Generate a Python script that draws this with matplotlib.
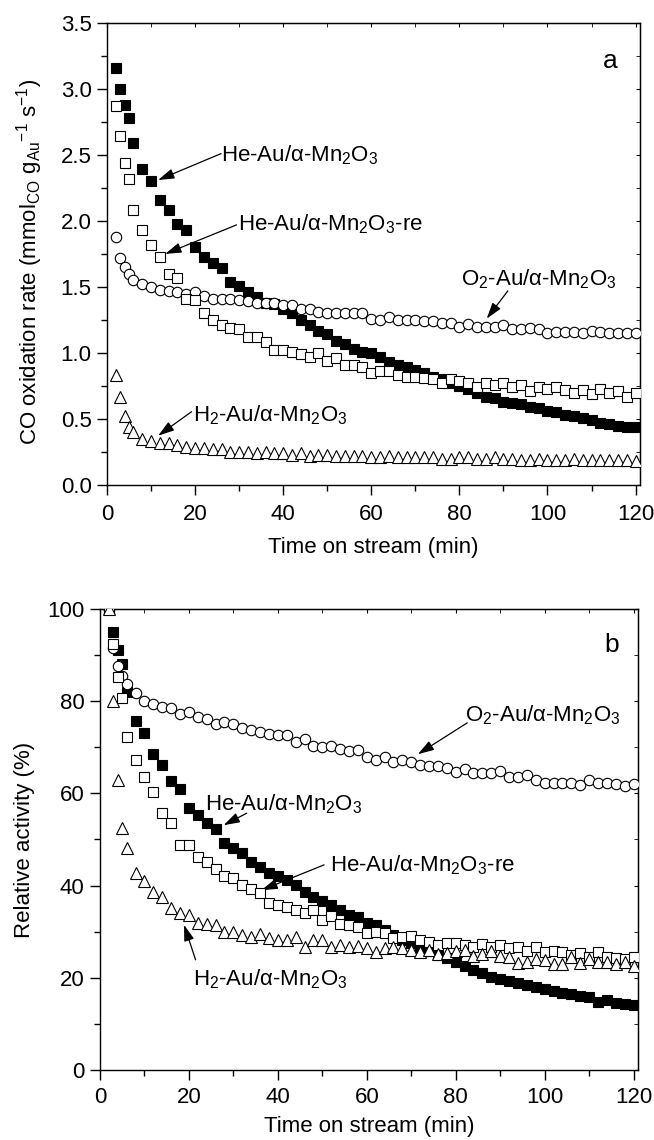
import matplotlib
matplotlib.use('Agg')
import matplotlib.pyplot as plt
from matplotlib.ticker import MultipleLocator

plt.rcParams['font.family'] = ['Liberation Sans', 'DejaVu Sans']
plt.rcParams['mathtext.fontset'] = 'custom'
plt.rcParams['mathtext.rm'] = 'Liberation Sans'
plt.rcParams['mathtext.it'] = 'Liberation Sans:italic'
plt.rcParams['mathtext.default'] = 'regular'

# Time on stream (min)
time_min = [2, 3, 4, 5, 6, 8, 10, 12, 14, 16, 18, 20, 22, 24, 26, 28, 30, 32, 34, 36,
            38, 40, 42, 44, 46, 48, 50, 52, 54, 56, 58, 60, 62, 64, 66, 68, 70, 72, 74, 76,
            78, 80, 82, 84, 86, 88, 90, 92, 94, 96, 98, 100, 102, 104, 106, 108, 110, 112,
            114, 116, 118, 120]

# (a) CO oxidation rate
rate_he = [3.16, 3.00, 2.88, 2.78, 2.59,
           2.39, 2.30, 2.16, 2.08, 1.98, 1.93, 1.80, 1.73, 1.68, 1.64,
           1.54, 1.51, 1.46, 1.42, 1.38, 1.37, 1.33, 1.30, 1.25, 1.21,
           1.17, 1.14, 1.09, 1.07, 1.03, 1.01, 1.00, 0.97, 0.93, 0.91,
           0.89, 0.87, 0.85, 0.82, 0.80, 0.77, 0.75, 0.73, 0.70, 0.67,
           0.66, 0.63, 0.62, 0.61, 0.59, 0.58, 0.56, 0.55, 0.53, 0.52,
           0.51, 0.49, 0.47, 0.46, 0.45, 0.44, 0.44]
rate_he_re = [2.87, 2.64, 2.44, 2.32, 2.08,
              1.93, 1.82, 1.73, 1.60, 1.57, 1.41, 1.40, 1.30, 1.25, 1.21,
              1.19, 1.18, 1.12, 1.12, 1.08, 1.02, 1.02, 1.01, 0.99, 0.97,
              1.00, 0.94, 0.96, 0.91, 0.91, 0.89, 0.85, 0.86, 0.86, 0.83,
              0.82, 0.82, 0.81, 0.80, 0.77, 0.80, 0.79, 0.77, 0.74, 0.77,
              0.76, 0.77, 0.74, 0.76, 0.71, 0.74, 0.73, 0.74, 0.72, 0.70,
              0.72, 0.69, 0.73, 0.70, 0.71, 0.67, 0.70]
rate_o2 = [1.88, 1.72, 1.65, 1.60, 1.55,
           1.52, 1.50, 1.48, 1.47, 1.46, 1.45, 1.46, 1.43, 1.41, 1.41,
           1.41, 1.40, 1.39, 1.38, 1.38, 1.38, 1.36, 1.36, 1.33, 1.33,
           1.31, 1.30, 1.30, 1.30, 1.30, 1.30, 1.26, 1.25, 1.27, 1.25,
           1.25, 1.25, 1.24, 1.24, 1.23, 1.23, 1.20, 1.22, 1.20, 1.20,
           1.20, 1.21, 1.18, 1.18, 1.19, 1.18, 1.15, 1.16, 1.16, 1.16,
           1.15, 1.17, 1.16, 1.15, 1.15, 1.15, 1.15]
rate_h2 = [0.83, 0.67, 0.52, 0.44, 0.40,
           0.35, 0.33, 0.32, 0.32, 0.30, 0.29, 0.28, 0.28, 0.27, 0.27,
           0.25, 0.25, 0.25, 0.24, 0.25, 0.24, 0.24, 0.23, 0.24, 0.22,
           0.23, 0.23, 0.22, 0.22, 0.22, 0.22, 0.21, 0.21, 0.22, 0.21,
           0.21, 0.21, 0.21, 0.21, 0.20, 0.20, 0.21, 0.21, 0.20, 0.20,
           0.21, 0.20, 0.20, 0.19, 0.19, 0.20, 0.19, 0.19, 0.19, 0.20,
           0.19, 0.19, 0.19, 0.19, 0.19, 0.19, 0.18]

# (b) Relative activity (%)
rel_he = [100, 95.1, 91.1, 88.0, 82.1,
          75.8, 73.0, 68.5, 66.2, 62.7, 60.9, 56.8, 55.3, 53.5, 52.2,
          49.2, 48.1, 47.0, 45.2, 44.0, 42.8, 42.0, 41.2, 40.1, 38.7,
          37.6, 36.7, 35.8, 34.7, 33.6, 33.1, 31.8, 31.5, 30.4, 29.3,
          28.3, 27.5, 26.6, 25.9, 24.9, 24.2, 23.5, 22.6, 21.7, 21.0,
          20.2, 19.7, 19.4, 18.8, 18.4, 18.1, 17.5, 17.2, 16.8, 16.5,
          16.1, 15.8, 14.8, 15.2, 14.6, 14.3, 14.1]
rel_he_re = [100, 92.3, 85.2, 80.8, 72.3,
             67.2, 63.5, 60.4, 55.7, 53.6, 48.8, 48.7, 46.1, 45.2, 43.5,
             42.1, 41.7, 40.1, 39.2, 38.3, 36.2, 35.8, 35.4, 34.6, 34.0,
             34.6, 32.5, 33.4, 31.7, 31.5, 31.0, 29.8, 30.0, 29.8, 28.6,
             28.8, 29.1, 28.2, 27.8, 27.1, 27.6, 27.5, 27.1, 26.6, 27.3,
             26.6, 27.1, 26.4, 26.6, 25.9, 26.6, 25.7, 25.9, 25.7, 24.9,
             25.3, 24.6, 25.7, 24.6, 24.4, 24.0, 24.6]
rel_o2 = [100, 91.5, 87.7, 85.5, 83.8,
          81.8, 80.1, 79.4, 78.7, 78.5, 77.2, 77.7, 76.5, 76.1, 75.1,
          75.4, 75.1, 74.1, 73.8, 73.4, 72.9, 72.7, 72.7, 71.2, 71.7,
          70.2, 70.0, 70.2, 69.6, 69.3, 69.4, 67.9, 67.3, 68.0, 66.9,
          67.3, 66.9, 66.2, 66.0, 65.9, 65.5, 64.6, 65.2, 64.5, 64.5,
          64.5, 64.8, 63.6, 63.6, 63.9, 63.0, 62.2, 62.3, 62.3, 62.2,
          61.8, 62.8, 62.2, 62.2, 62.0, 61.6, 62.0]
rel_h2 = [100, 80.0, 62.9, 52.4, 48.1,
          42.7, 40.9, 38.7, 37.6, 35.1, 34.0, 33.6, 31.8, 31.7, 31.5,
          30.0, 30.0, 29.3, 28.9, 29.5, 28.6, 28.2, 28.2, 28.8, 26.6,
          28.2, 28.1, 26.6, 27.1, 26.6, 26.9, 26.4, 25.7, 26.4, 26.6,
          26.4, 26.0, 25.7, 26.0, 25.2, 25.4, 25.9, 26.0, 24.7, 25.2,
          25.9, 24.7, 24.6, 23.3, 23.4, 24.1, 23.9, 23.0, 23.0, 24.6,
          23.3, 24.0, 23.4, 23.4, 23.0, 23.4, 22.6]

lab_he = 'He-Au/$\\alpha$-Mn$_2$O$_3$'
lab_he_re = 'He-Au/$\\alpha$-Mn$_2$O$_3$-re'
lab_o2 = 'O$_2$-Au/$\\alpha$-Mn$_2$O$_3$'
lab_h2 = 'H$_2$-Au/$\\alpha$-Mn$_2$O$_3$'

FS = 16
arrow_kw = dict(arrowstyle='-|>,head_length=0.7,head_width=0.22', color='black',
                lw=0.9, shrinkA=0, shrinkB=0, mutation_scale=14)

fig = plt.figure(figsize=(6.54, 11.4), dpi=100)
ax1 = fig.add_axes([0.1636, 0.5746, 0.8150, 0.4053])
ax2 = fig.add_axes([0.1529, 0.0614, 0.8226, 0.4044])


def draw_series(ax, he, he_re, o2, h2):
    ax.plot(time_min, he, 's', ms=7, mfc='black', mec='black', mew=0.8, zorder=3)
    ax.plot(time_min, o2, 'o', ms=7.5, mfc='white', mec='black', mew=0.8, zorder=4)
    ax.plot(time_min, he_re, 's', ms=7, mfc='white', mec='black', mew=0.8, zorder=5)
    ax.plot(time_min, h2, '^', ms=8, mfc='white', mec='black', mew=0.8, zorder=6)


def style_axis(ax, ymax, ymajor, yminor, yfmt, xpad):
    ax.set_xlim(0, 121)
    ax.set_ylim(0, ymax)
    ax.xaxis.set_major_locator(MultipleLocator(20))
    ax.xaxis.set_minor_locator(MultipleLocator(10))
    ax.yaxis.set_major_locator(MultipleLocator(ymajor))
    ax.yaxis.set_minor_locator(MultipleLocator(yminor))
    ax.yaxis.set_major_formatter(yfmt)
    ax.tick_params(which='major', direction='out', length=7, width=1.0,
                   labelsize=FS, pad=4)
    ax.tick_params(axis='x', which='major', pad=xpad)
    ax.tick_params(which='minor', direction='out', length=4, width=1.0)
    for s in ax.spines.values():
        s.set_linewidth(1.0)
    # small inward ticks on top and right, no labels
    top = ax.secondary_xaxis('top')
    top.xaxis.set_major_locator(MultipleLocator(20))
    top.xaxis.set_minor_locator(MultipleLocator(10))
    top.tick_params(which='both', direction='in', length=3, labeltop=False)
    right = ax.secondary_yaxis('right')
    right.yaxis.set_major_locator(MultipleLocator(ymajor))
    right.yaxis.set_minor_locator(MultipleLocator(yminor))
    right.tick_params(which='both', direction='in', length=3, labelright=False)
    ax.set_xlabel('Time on stream (min)', fontsize=FS)


# ---- panel a ----
draw_series(ax1, rate_he, rate_he_re, rate_o2, rate_h2)
style_axis(ax1, 3.5, 0.5, 0.25, '{x:.1f}', 7)
ax1.xaxis.set_label_coords(0.5, -0.113)
ax1.set_ylabel('CO oxidation rate (mmol$_{CO}$ g$_{Au}$$^{-1}$ s$^{-1}$)', fontsize=FS)
ax1.yaxis.set_label_coords(-0.116, 0.483)
ax1.text(112.5, 3.16, 'a', fontsize=19)

ax1.text(25.9, 2.45, lab_he, fontsize=FS)
ax1.annotate('', xy=(11.6, 2.31), xytext=(25.9, 2.51), arrowprops=arrow_kw)
ax1.text(29.7, 1.93, lab_he_re, fontsize=FS)
ax1.annotate('', xy=(13.2, 1.75), xytext=(29.4, 1.97), arrowprops=arrow_kw)
ax1.text(80.3, 1.51, lab_o2, fontsize=FS)
ax1.annotate('', xy=(86.2, 1.26), xytext=(91.0, 1.47), arrowprops=arrow_kw)
ax1.text(19.6, 0.48, lab_h2, fontsize=FS)
ax1.annotate('', xy=(11.6, 0.373), xytext=(19.2, 0.555), arrowprops=arrow_kw)

# ---- panel b ----
draw_series(ax2, rel_he, rel_he_re, rel_o2, rel_h2)
style_axis(ax2, 100, 20, 10, '{x:.0f}', 5)
ax2.xaxis.set_label_coords(0.5, -0.1)
ax2.set_ylabel('Relative activity (%)', fontsize=FS)
ax2.yaxis.set_label_coords(-0.12, 0.5)
ax2.text(113.4, 90.7, 'b', fontsize=19)

ax2.text(82.1, 75.6, lab_o2, fontsize=FS)
ax2.annotate('', xy=(71.5, 68.5), xytext=(82.6, 75.3), arrowprops=arrow_kw)
ax2.text(23.6, 56.4, lab_he, fontsize=FS)
ax2.annotate('', xy=(27.8, 53.1), xytext=(33.0, 55.7), arrowprops=arrow_kw)
ax2.text(51.8, 43.0, lab_he_re, fontsize=FS)
ax2.annotate('', xy=(36.3, 39.0), xytext=(50.4, 44.5), arrowprops=arrow_kw)
ax2.text(21.0, 18.4, lab_h2, fontsize=FS)
ax2.annotate('', xy=(18.9, 31.5), xytext=(21.5, 23.9), arrowprops=arrow_kw)

fig.savefig('out.png', dpi=100)
